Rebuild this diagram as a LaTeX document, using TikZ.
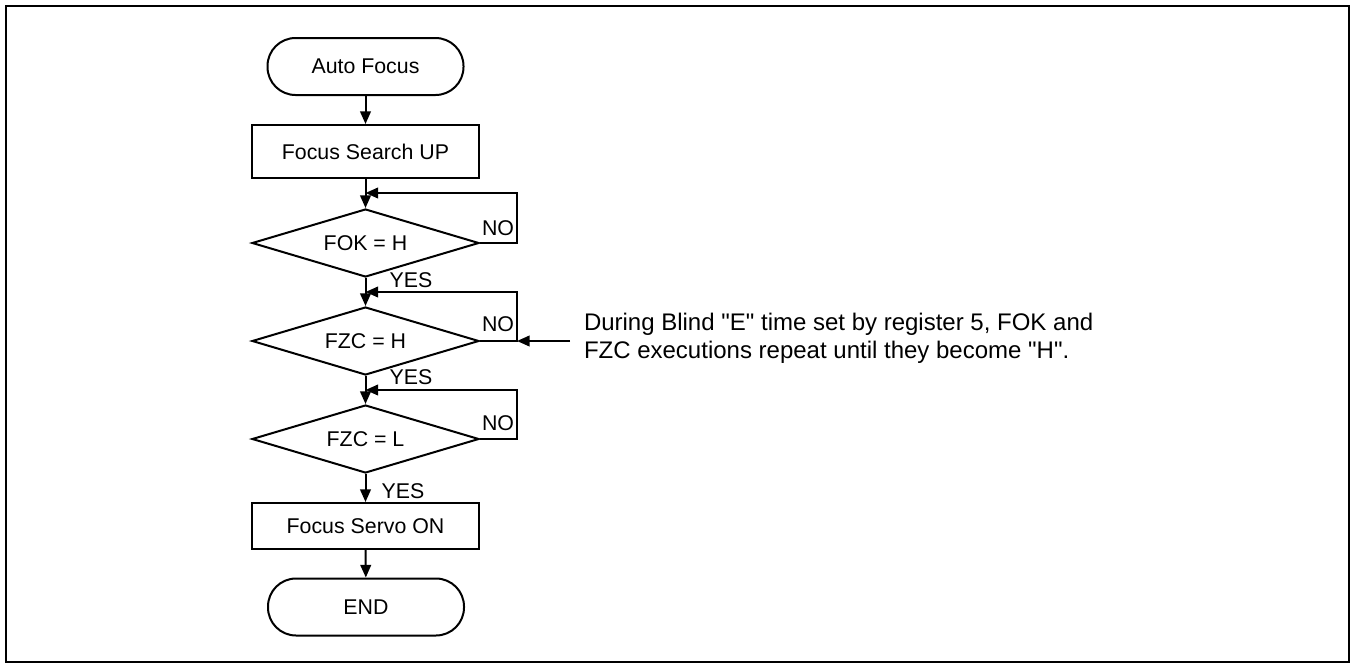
\documentclass[tikz,border=0pt]{standalone}
\usepackage{fontspec}
\setmainfont{Liberation Sans}
\usetikzlibrary{shapes.geometric,arrows.meta}
\begin{document}
\begin{tikzpicture}[x=0.75pt,y=-0.75pt,
  line width=1.5pt,
  every node/.style={font=\fontsize{16}{19}\selectfont},
  term/.style={draw,rectangle,rounded corners=21pt,minimum width=147pt,minimum height=42.75pt,inner sep=0pt},
  proc/.style={draw,rectangle,minimum width=170.25pt,inner sep=0pt},
  dec/.style={draw,diamond,aspect=3.34,minimum width=170.25pt,minimum height=51pt,inner sep=0pt},
  arr/.style={-{Triangle[length=9.5pt,width=8pt]}},
  lbl/.style={inner sep=0pt}]
\useasboundingbox (0,0) rectangle (1356,664);
\draw (6,6) rectangle (1349,662);

\node[term] (af) at (365.5,66.5) {Auto Focus};
\node[proc,minimum height=39.75pt] (fs) at (365.5,151.5) {Focus Search UP};
\node[dec] (d1) at (365.5,243) {FOK = H};
\node[dec] (d2) at (365.5,341) {FZC = H};
\node[dec] (d3) at (365.5,439) {FZC = L};
\node[proc,minimum height=34.5pt] (so) at (365.5,526) {Focus Servo ON};
\node[term] (en) at (366,607) {END};

\coordinate (j1) at (365.5,193);
\coordinate (j2) at (365.5,292);
\coordinate (j3) at (365.5,390);
\coordinate (r1) at (517,193);
\coordinate (r2) at (517,292);
\coordinate (r3) at (517,390);
\coordinate (k2) at (517,341);
\coordinate (n0) at (570,341);

\draw[arr] (af) -- (fs);
\draw[arr] (fs) -- (d1);
\draw[arr] (d1) -- (d2);
\draw[arr] (d2) -- (d3);
\draw[arr] (d3) -- (so);
\draw[arr] (so) -- (en);

\draw[arr] (d1.east) -| (r1) -- (j1);
\draw[arr] (d2.east) -| (r2) -- (j2);
\draw[arr] (d3.east) -| (r3) -- (j3);
\draw[arr] (n0) -- (k2);

\node[lbl] (no1) at (498,228) {NO};
\node[lbl] (no2) at (498,324) {NO};
\node[lbl] (no3) at (498,423) {NO};
\node[lbl] (y1) at (411,280) {YES};
\node[lbl] (y2) at (411,377) {YES};
\node[lbl] (y3) at (403,491) {YES};

\node[lbl,anchor=base west,align=left,font=\fontsize{18}{21}\selectfont] (note) at (583,358)
 {During Blind \textquotedbl E\textquotedbl{} time set by register 5, FOK and\\FZC executions repeat until they become \textquotedbl H\textquotedbl.};
\end{tikzpicture}
\end{document}
